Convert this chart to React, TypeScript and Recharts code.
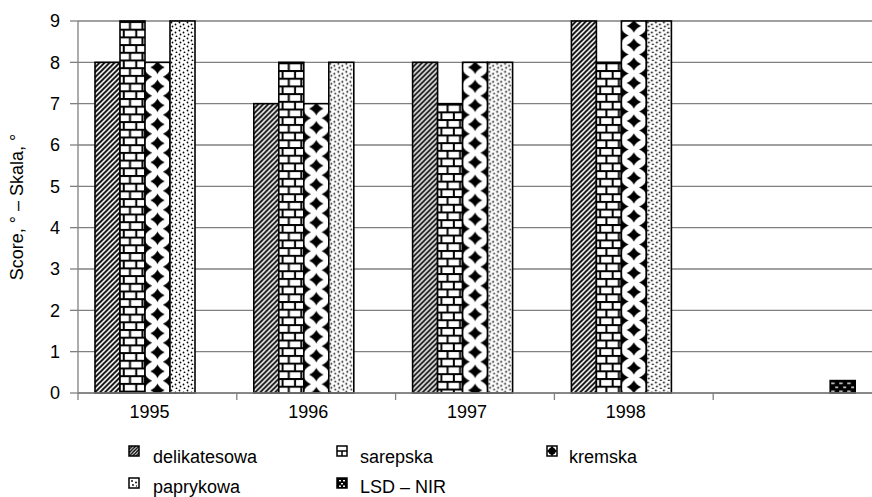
import React from 'react';
import { BarChart, Bar, XAxis, YAxis, CartesianGrid } from 'recharts';

const years = ['1995', '1996', '1997', '1998', ''];
const delikatesowa = [8, 7, 8, 9, null];
const sarepska = [9, 8, 7, 8, null];
const kremska = [8, 7, 8, 9, null];
const paprykowa = [9, 8, 8, 9, null];
const lsdNir = [null, null, null, null, 0.3];
const yTicks = [0, 1, 2, 3, 4, 5, 6, 7, 8, 9];
const seriesNames = ['delikatesowa', 'sarepska', 'kremska', 'paprykowa', 'LSD – NIR'];
const seriesKeys = ['delikatesowa', 'sarepska', 'kremska', 'paprykowa', 'lsd'];
const seriesKinds = ['diag', 'brick', 'diamond', 'dots', 'lsd'];

const data = years.map((year, i) => ({
  year,
  delikatesowa: delikatesowa[i],
  sarepska: sarepska[i],
  kremska: kremska[i],
  paprykowa: paprykowa[i],
  lsd: lsdNir[i],
}));

const FONT = '"Liberation Sans", Arial, Helvetica, sans-serif';
const W = 872;
const H = 497;
const Y_AXIS_W = 78;
const BAND = (W - Y_AXIS_W) / years.length;
const GRAY = '#808080';

const dia = (cx: number, cy: number, a: number, b: number) =>
  `M${cx},${cy - b} Q${cx + a * 0.3},${cy - b * 0.3} ${cx + a},${cy} Q${cx + a * 0.3},${cy + b * 0.3} ${cx},${cy + b} Q${cx - a * 0.3},${cy + b * 0.3} ${cx - a},${cy} Q${cx - a * 0.3},${cy - b * 0.3} ${cx},${cy - b} Z`;

function patternEl(kind: string, id: string, x: number, y: number, w: number) {
  switch (kind) {
    case 'diag':
      return (
        <pattern id={id} patternUnits="userSpaceOnUse" x={x} y={y} width={5} height={5}>
          <rect width={5} height={5} fill="#fff" />
          <path d="M-1,1 L1,-1 M0,5 L5,0 M4,6 L6,4" stroke="#000" strokeWidth={1.9} />
        </pattern>
      );
    case 'brick': {
      const bw = w / 2;
      const rh = 7.7;
      return (
        <pattern id={id} patternUnits="userSpaceOnUse" x={x} y={y} width={bw} height={2 * rh}>
          <rect width={bw} height={2 * rh} fill="#fff" />
          <rect x={0} y={0} width={bw} height={2} fill="#000" />
          <rect x={0} y={rh} width={bw} height={2} fill="#000" />
          <rect x={bw * 0.72} y={0} width={2} height={rh} fill="#000" />
          <rect x={bw * 0.22} y={rh} width={2} height={rh} fill="#000" />
        </pattern>
      );
    }
    case 'diamond': {
      const ph = 19;
      const a = 7.2;
      const b = 6.8;
      return (
        <pattern id={id} patternUnits="userSpaceOnUse" x={x} y={y + 5} width={w} height={ph}>
          <rect width={w} height={ph} fill="#fff" />
          <path
            d={[dia(w / 2, 0, a, b), dia(w / 2, ph, a, b), dia(0, ph / 2, a, b), dia(w, ph / 2, a, b)].join(' ')}
            fill="#000"
          />
        </pattern>
      );
    }
    case 'dots':
      return (
        <pattern id={id} patternUnits="userSpaceOnUse" x={x} y={y} width={8} height={8}>
          <rect width={8} height={8} fill="#fff" />
          <circle cx={1.5} cy={1.5} r={0.9} fill="#000" />
          <circle cx={5.5} cy={3.5} r={0.9} fill="#000" />
          <circle cx={2.5} cy={5.5} r={0.9} fill="#000" />
          <circle cx={6.5} cy={7.5} r={0.9} fill="#000" />
        </pattern>
      );
    default:
      return (
        <pattern id={id} patternUnits="userSpaceOnUse" x={x} y={y} width={8} height={8}>
          <rect width={8} height={8} fill="#000" />
          <rect x={1} y={2} width={3.5} height={1.3} fill="#fff" />
          <rect x={5} y={6} width={3.5} height={1.3} fill="#fff" />
        </pattern>
      );
  }
}

const makeShape = (kind: string) => (props: any) => {
  const { x, y, width, height, index } = props;
  if (height == null || width == null || height <= 0) return <g />;
  const id = `pat-${kind}-${index}`;
  return (
    <g>
      <defs>{patternEl(kind, id, x, y, width)}</defs>
      <rect x={x} y={y} width={width} height={height} fill={`url(#${id})`} stroke="#000" strokeWidth={1.6} />
    </g>
  );
};

const renderXTick = (props: any) => {
  const { x, y, payload } = props;
  const bx = x - BAND / 2;
  return (
    <g>
      <line x1={bx} x2={bx} y1={y - 12} y2={y - 5} stroke={GRAY} strokeWidth={1.3} />
      <text x={x - 8} y={y} dy="0.71em" textAnchor="middle" fill="#000" fontSize={18} fontFamily={FONT}>
        {payload.value}
      </text>
    </g>
  );
};

function LegendIcon({ kind, x, y }: { kind: string; x: number; y: number }) {
  const s = 10;
  if (kind === 'diag') {
    return (
      <g>
        <defs>
          <pattern id="leg-diag" patternUnits="userSpaceOnUse" x={x} y={y} width={3.4} height={3.4}>
            <rect width={3.4} height={3.4} fill="#fff" />
            <path d="M-1,1 L1,-1 M0,3.4 L3.4,0 M2.4,4.4 L4.4,2.4" stroke="#000" strokeWidth={1.4} />
          </pattern>
        </defs>
        <rect x={x} y={y} width={s} height={s} fill="url(#leg-diag)" stroke="#000" strokeWidth={1.5} />
      </g>
    );
  }
  if (kind === 'brick') {
    return (
      <g>
        <rect x={x} y={y} width={s} height={s} fill="#fff" stroke="#000" strokeWidth={1.5} />
        <line x1={x} x2={x + s} y1={y + s / 2} y2={y + s / 2} stroke="#000" strokeWidth={1.5} />
        <line x1={x + s / 2} x2={x + s / 2} y1={y + s / 2} y2={y + s} stroke="#000" strokeWidth={1.5} />
      </g>
    );
  }
  if (kind === 'diamond') {
    return (
      <g>
        <rect x={x} y={y} width={s} height={s} fill="#fff" stroke="#000" strokeWidth={1.5} />
        <path d={dia(x + s / 2, y + s / 2, 5.2, 5.2)} fill="#000" />
        <circle cx={x + s / 2} cy={y + s / 2} r={3.6} fill="#000" />
      </g>
    );
  }
  if (kind === 'dots') {
    return (
      <g>
        <rect x={x} y={y} width={s} height={s} fill="#fff" stroke="#000" strokeWidth={1.5} />
        <circle cx={x + 3} cy={y + 3} r={0.9} fill="#000" />
        <circle cx={x + 7} cy={y + 4.5} r={0.9} fill="#000" />
        <circle cx={x + 4} cy={y + 7} r={0.9} fill="#000" />
        <circle cx={x + 7.5} cy={y + 8} r={0.7} fill="#000" />
      </g>
    );
  }
  return (
    <g>
      <rect x={x} y={y} width={s} height={s} fill="#000" stroke="#000" strokeWidth={1.5} />
      <rect x={x + 2} y={y + 2} width={2} height={1.4} fill="#fff" />
      <rect x={x + 6} y={y + 2} width={2} height={1.4} fill="#fff" />
      <rect x={x + 4} y={y + 5} width={2} height={1.4} fill="#fff" />
      <rect x={x + 2} y={y + 7.5} width={2} height={1.4} fill="#fff" />
      <rect x={x + 6} y={y + 7.5} width={2} height={1.4} fill="#fff" />
    </g>
  );
}

const legendSlots = [
  { ix: 129, iy: 446, tx: 153, ty: 463 },
  { ix: 337, iy: 446, tx: 360, ty: 463 },
  { ix: 547, iy: 446, tx: 569, ty: 463 },
  { ix: 129, iy: 478, tx: 153, ty: 493 },
  { ix: 337, iy: 478, tx: 360, ty: 493 },
];

export default function App() {
  return (
    <div style={{ position: 'absolute', left: 0, top: 0, width: W, height: H, background: '#fff', fontFamily: FONT }}>
      <BarChart
        width={W}
        height={H}
        data={data}
        margin={{ top: 21, right: 0, left: 0, bottom: 74 }}
        barCategoryGap={17}
        barGap={0}
      >
        <CartesianGrid vertical={false} stroke={GRAY} strokeWidth={1.3} />
        <XAxis
          dataKey="year"
          height={30}
          interval={0}
          tickSize={7}
          tickMargin={5}
          tickLine={false}
          axisLine={{ stroke: GRAY, strokeWidth: 1.3 }}
          tick={renderXTick}
        />
        <YAxis
          domain={[0, 9]}
          ticks={yTicks}
          interval={0}
          width={Y_AXIS_W}
          tickSize={8}
          tickMargin={10}
          axisLine={{ stroke: GRAY, strokeWidth: 1.3 }}
          tickLine={{ stroke: GRAY, strokeWidth: 1.3 }}
          tick={{ fill: '#000', fontSize: 18, fontFamily: FONT }}
          label={{
            content: () => (
              <text
                x={23}
                y={207}
                transform="rotate(-90 23 207)"
                textAnchor="middle"
                fill="#000"
                fontSize={18}
                fontFamily={FONT}
              >
                Score, ° – Skala, °
              </text>
            ),
          }}
        />
        {seriesKeys.map((k, i) => (
          <Bar key={k} dataKey={k} name={seriesNames[i]} shape={makeShape(seriesKinds[i])} isAnimationActive={false} />
        ))}
      </BarChart>
      <svg width={W} height={H} style={{ position: 'absolute', left: 0, top: 0, pointerEvents: 'none' }}>
        {seriesNames.map((name, i) => (
          <g key={name}>
            <LegendIcon kind={seriesKinds[i]} x={legendSlots[i].ix} y={legendSlots[i].iy} />
            <text x={legendSlots[i].tx} y={legendSlots[i].ty} fontSize={18} fontFamily={FONT} fill="#000">
              {name}
            </text>
          </g>
        ))}
      </svg>
    </div>
  );
}
